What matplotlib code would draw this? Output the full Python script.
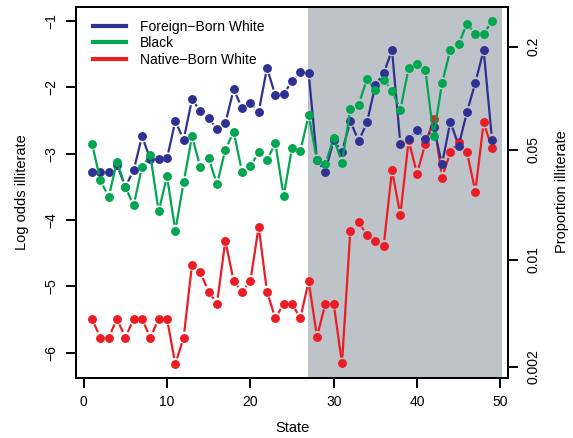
import numpy as np
import matplotlib
matplotlib.use('Agg')
import matplotlib.pyplot as plt
from matplotlib.collections import LineCollection
from matplotlib.transforms import IdentityTransform

plt.rcParams['font.family'] = ['Liberation Sans', 'DejaVu Sans']

# values (log odds of illiteracy by state)
state = np.arange(1, 50)
foreign_born = [-3.27, -3.27, -3.27, -3.17, -3.50, -3.25, -2.74, -3.08, -3.08, -3.07,
                -2.51, -2.79, -2.18, -2.36, -2.47, -2.63, -2.54, -2.03, -2.31, -2.23,
                -2.37, -1.71, -2.12, -2.10, -1.91, -1.77, -1.79, -3.10, -3.27, -2.80,
                -2.97, -2.51, -2.81, -2.53, -1.97, -1.79, -1.44, -2.85, -2.78, -2.64,
                -2.78, -2.60, -3.16, -2.52, -2.88, -2.37, -1.93, -1.44, -2.79]
black = [-2.85, -3.40, -3.65, -3.12, -3.50, -3.78, -3.20, -3.02, -3.87, -3.34,
         -4.16, -3.43, -2.74, -3.20, -3.07, -3.46, -2.94, -2.67, -3.27, -3.19,
         -2.98, -3.10, -2.84, -3.64, -2.91, -2.96, -2.42, -3.10, -3.16, -2.76,
         -3.14, -2.33, -2.26, -1.87, -2.04, -1.89, -2.05, -2.34, -1.71, -1.65,
         -1.74, -2.74, -1.94, -1.44, -1.35, -1.04, -1.20, -1.20, -1.00]
native_born = [-5.49, -5.77, -5.77, -5.49, -5.77, -5.49, -5.49, -5.77, -5.49, -5.49,
               -6.17, -5.77, -4.67, -4.79, -5.08, -5.26, -4.31, -4.92, -5.08, -4.92,
               -4.10, -5.08, -5.48, -5.26, -5.26, -5.48, -4.92, -5.76, -5.26, -5.26,
               -6.16, -4.16, -4.03, -4.23, -4.31, -4.39, -3.25, -3.92, -2.80, -3.30,
               -2.85, -2.48, -3.36, -2.98, -2.82, -2.98, -3.57, -2.53, -2.92]

prop_ticks = [0.2, 0.05, 0.01, 0.002]
prop_labels = ['0.2', '0.05', '0.01', '0.002']

c_fb = '#2e3192'
c_bl = '#00a650'
c_nb = '#ec1c24'

fig = plt.figure(figsize=(5.73, 4.38), dpi=100)
ax = fig.add_axes([76/573, 1-378/438, 432/573, 371/438])
ax.set_xlim(-0.92, 50.92)
ax.set_ylim(-6.38, -0.79)

ax.axvspan(26.9, 50.2, color='#bec3ca', lw=0, zorder=0)


def type_b(ax, x, y, color, z, gap=6.0):
    # R style type="b": points joined by lines that stop short of each point
    pts = ax.transData.transform(np.column_stack([x, y]))
    segs = []
    for p0, p1 in zip(pts[:-1], pts[1:]):
        d = p1 - p0
        n = np.hypot(d[0], d[1])
        if n <= 2 * gap:
            continue
        u = d / n
        segs.append([p0 + u * gap, p1 - u * gap])
    lc = LineCollection(segs, colors=color, linewidths=1.6,
                        transform=IdentityTransform(), zorder=z)
    ax.add_collection(lc, autolim=False)
    ax.plot(x, y, 'o', color=color, ms=6.4, mec='none', zorder=z)


type_b(ax, state, native_born, c_nb, 2)
type_b(ax, state, foreign_born, c_fb, 3)
type_b(ax, state, black, c_bl, 4)

# legend
h1, = ax.plot([], [], color=c_fb, lw=3)
h2, = ax.plot([], [], color=c_bl, lw=3)
h3, = ax.plot([], [], color=c_nb, lw=3)
ax.legend([h1, h2, h3], ['Foreign\u2212Born White', 'Black', 'Native\u2212Born White'],
          loc='upper left', bbox_to_anchor=(0.01, 1.0), frameon=False, fontsize=10,
          handlelength=2.4, handletextpad=1.0, labelspacing=0.2, borderaxespad=0.5)

for s in ax.spines.values():
    s.set_linewidth(1.4)
ax.set_xticks([0, 10, 20, 30, 40, 50])
ax.set_yticks([-1, -2, -3, -4, -5, -6])
ax.tick_params(direction='out', length=7, width=1.4, labelsize=10)
ax.tick_params(axis='x', pad=5)
ax.tick_params(axis='y', pad=6)
for lab in ax.get_yticklabels():
    lab.set_rotation(90)
    lab.set_va('center')

ax2 = ax.twinx()
ax2.set_ylim(ax.get_ylim())
ax2.set_yticks([np.log(p / (1 - p)) for p in prop_ticks])
ax2.set_yticklabels(prop_labels, rotation=90, va='center')
ax2.tick_params(direction='out', length=7, width=1.4, labelsize=10, pad=6)
for s in ax2.spines.values():
    s.set_linewidth(1.4)

fig.text(292/573, 1-428/438, 'State', ha='center', va='center', fontsize=10.5)
fig.text(22/573, 1-192/438, 'Log odds illiterate', rotation=90, ha='center', va='center', fontsize=10.5)
fig.text(562/573, 1-192/438, 'Proportion illiterate', rotation=90, ha='center', va='center', fontsize=10.5)

fig.savefig('out.png', dpi=100)
